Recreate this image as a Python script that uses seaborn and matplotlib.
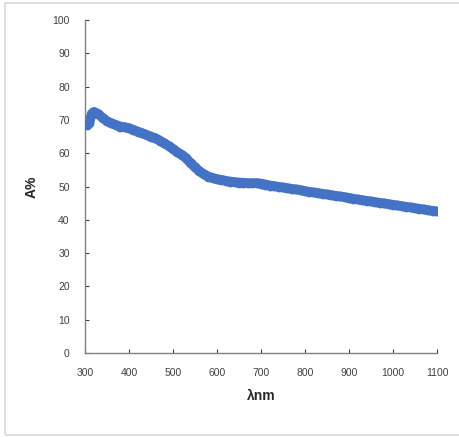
import matplotlib
matplotlib.use("Agg")
import matplotlib.pyplot as plt
from matplotlib.patches import Rectangle
import seaborn as sns
import pandas as pd

# Absorbance spectrum, A% versus wavelength (nm)
wavelength = [305, 310, 315, 320, 330, 340, 350, 360, 370, 380, 390, 400,
              410, 420, 430, 440, 450, 460, 470, 480, 490, 500, 510, 520,
              530, 540, 550, 560, 570, 580, 590, 600, 610, 620, 630, 640,
              650, 660, 670, 680, 690, 700, 710, 720, 730, 740, 750, 760,
              770, 780, 790, 800, 810, 820, 830, 840, 850, 860, 870, 880,
              890, 900, 910, 920, 930, 940, 950, 960, 970, 980, 990, 1000,
              1010, 1020, 1030, 1040, 1050, 1060, 1070, 1080, 1090, 1100]
absorbance = [68.5, 69.2, 71.8, 72.4, 71.8, 70.6, 69.6, 69.0, 68.5, 68.0, 67.8, 67.5,
              67.0, 66.5, 66.0, 65.5, 65.0, 64.5, 63.8, 63.0, 62.2, 61.3, 60.3, 59.5,
              58.5, 57.0, 55.8, 54.6, 53.7, 53.0, 52.6, 52.2, 52.0, 51.7, 51.5, 51.3,
              51.2, 51.1, 51.0, 51.0, 51.0, 50.9, 50.6, 50.3, 50.1, 49.9, 49.7, 49.5,
              49.3, 49.1, 48.9, 48.6, 48.4, 48.2, 48.0, 47.8, 47.6, 47.4, 47.2, 47.0,
              46.8, 46.6, 46.3, 46.1, 45.9, 45.7, 45.5, 45.3, 45.1, 44.9, 44.7, 44.5,
              44.3, 44.1, 43.9, 43.7, 43.5, 43.3, 43.1, 42.9, 42.7, 42.5]

x_ticks = [300, 400, 500, 600, 700, 800, 900, 1000, 1100]
y_ticks = [0, 10, 20, 30, 40, 50, 60, 70, 80, 90, 100]

df = pd.DataFrame({"wavelength": wavelength, "absorbance": absorbance})

sns.set_theme(style="white")
plt.rcParams["font.family"] = ["Liberation Sans", "DejaVu Sans"]

fig = plt.figure(figsize=(4.6, 4.37), dpi=100)
ax = fig.add_axes([85 / 460, 84 / 437, 352 / 460, 333 / 437])

# Chart-area frame (its right edge runs off the canvas)
fig.patches.append(Rectangle((4.5 / 460, 2.5 / 437), 1.05, 432 / 437,
                             transform=fig.transFigure, fill=False,
                             edgecolor="#d9d9d9", linewidth=1.2, zorder=0))

blue = "#4472C4"
sns.lineplot(data=df, x="wavelength", y="absorbance", ax=ax, color=blue,
             linewidth=7, solid_capstyle="round", solid_joinstyle="round")
sns.scatterplot(data=df, x="wavelength", y="absorbance", ax=ax, color=blue,
                s=50, linewidth=0, zorder=3)

ax.set_xlim(300, 1100)
ax.set_ylim(0, 100)
ax.set_xticks(x_ticks)
ax.set_yticks(y_ticks)
ax.tick_params(axis="both", labelsize=7.5, colors="#404040", direction="in",
               length=3, width=0.8, bottom=True, left=True)
ax.tick_params(axis="x", pad=11)
ax.tick_params(axis="y", pad=11)
for t in ax.get_xticklines() + ax.get_yticklines():
    t.set_color("#808080")

for side in ("top", "right"):
    ax.spines[side].set_visible(False)
for side in ("left", "bottom"):
    ax.spines[side].set_color("#808080")
    ax.spines[side].set_linewidth(1.0)

ax.set_xlabel("λnm", fontsize=10, fontweight="bold", color="#262626", labelpad=8)
ax.set_ylabel("A%", fontsize=10, fontweight="bold", color="#262626", labelpad=10)

fig.savefig("out.png", dpi=100)
